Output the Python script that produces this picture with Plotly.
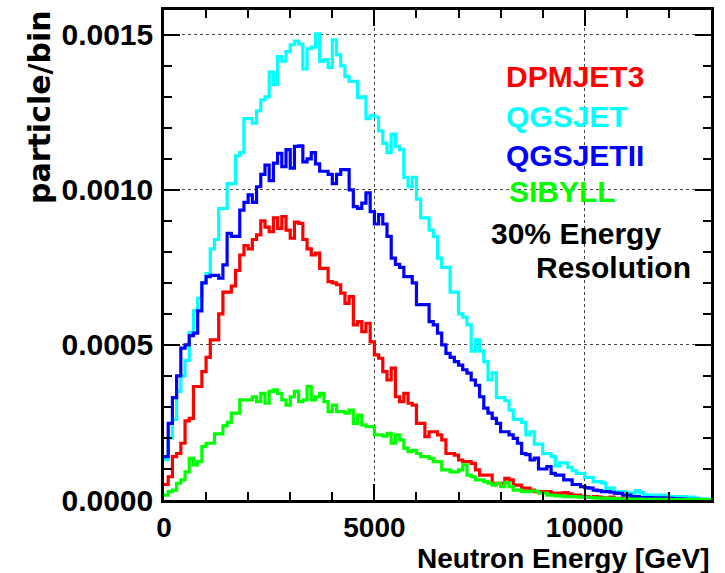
import numpy as np
import plotly.graph_objects as go

# Bin edges (GeV): 130 bins of 100 GeV
bin_width_gev = 100
n_bins = 130
bin_edges_gev = np.arange(0, bin_width_gev * (n_bins + 1), bin_width_gev)

# Values in units of 1e-5 particle/bin
scale = 1e-5

dpmjet3 = [
    5, 7.5, 14, 15, 18.3, 25.5, 26.3, 36.6, 36.6, 41.4,
    46, 51.6, 51.6, 60, 67, 67, 69, 74, 79, 82,
    81, 84, 85.5, 90, 88, 86.5, 91, 87.6, 91.4, 87,
    84.4, 89.6, 89.2, 84, 81, 79, 79.6, 74.7, 74.7, 70.4,
    70, 69.4, 66.7, 63.4, 65.6, 56.5, 57.5, 54.3, 57, 51,
    46.8, 45.7, 41.4, 38.7, 42.5, 33.3, 31.7, 34.4, 31.2, 30.6,
    24.7, 24.7, 20.4, 22, 22, 21, 19.4, 15, 15, 14.5,
    12.9, 12.4, 12.4, 11.8, 9.7, 8, 8, 8, 5.4, 5.4,
    5.4, 7, 6.5, 4.8, 4.8, 3.8, 3.8, 3.2, 2.7, 2.7,
    2.7, 2.7, 2.2, 2.2, 2.2, 2.4, 2.0, 1.6, 1.6, 1.2,
    1.1, 0.8, 1.1, 0.9, 0.7, 0.6, 0.9, 0.5, 0.5, 0.4,
    0.4, 0.3, 0.3, 0.2, 0.2, 0.2, 0.2, 0.1, 0.1, 0.1,
    0.1, 0.1, 0.1, 0.1, 0.05, 0.05, 0.05, 0.05, 0.05, 0.05,
]

qgsjet = [
    13, 20, 26, 35, 40, 45, 54, 61, 65, 70,
    73, 81, 84, 94, 94, 102, 102, 111, 112, 123,
    123, 121.5, 125.5, 129, 130, 138, 134, 143, 141.5, 144.6,
    146.8, 148, 147, 139, 145.5, 146, 150.3, 141.4, 142, 139.5,
    148.4, 143.5, 140, 136.5, 135, 135, 129.7, 130, 123, 124,
    123.5, 119, 115, 112, 118, 114, 113, 104, 101, 104,
    97, 91, 91, 87, 85, 78, 75, 75, 67, 67,
    60, 59, 56.5, 48, 51.6, 48, 44.6, 38.7, 41, 33,
    33, 32, 29, 26, 26, 25, 21, 22, 18, 18,
    15, 15, 14, 11, 12, 12, 10.5, 9.5, 8.6, 8.6,
    7.3, 7.3, 5.9, 5.9, 5.5, 3.8, 3.8, 2.7, 2.7, 2.7,
    2.2, 2.2, 3.0, 2.4, 1.6, 1.6, 1.6, 1.6, 1.6, 1.6,
    1.1, 1.1, 1.1, 1.1, 0.9, 0.9, 0.6, 0.4, 0.4, 0.3,
]

qgsjetii = [
    14, 24.7, 33, 40, 49, 50, 53, 53.8, 61, 70,
    72, 72.4, 72.4, 71.5, 75.8, 86, 85, 85, 93.5, 96,
    98.4, 96, 101, 105, 108, 103, 108.6, 111.8, 107.5, 113,
    107, 114, 114.2, 109, 110, 112, 108.4, 106, 106, 105,
    102, 105, 106.5, 106.5, 100, 94.6, 94, 95.7, 99, 93,
    89, 92, 89, 85, 78, 76, 75, 72, 72, 70,
    63, 63, 63, 57.5, 56.5, 53.8, 50, 47.3, 46, 44.6,
    43.5, 42, 40.9, 38.7, 37, 33.3, 29.6, 28, 26.3, 24.7,
    22, 22, 21, 19.9, 18.3, 15, 14.6, 12.9, 13.5, 10,
    10, 10.8, 8.6, 8, 8, 6.5, 6.5, 5, 5, 4.3,
    4, 3.8, 3.2, 3, 2.7, 2.7, 2.5, 2.2, 2.15, 1.6,
    1.6, 1.1, 1.1, 0.8, 0.75, 0.75, 0.7, 0.7, 0.7, 0.6,
    0.5, 0.4, 0.4, 0.3, 0.2, 0.2, 0.2, 0.1, 0.1, 0.1,
]

sibyll = [
    1.6, 2.7, 3.2, 5.4, 6.5, 9.1, 13.4, 11.3, 12.4, 17.2,
    18.3, 18.3, 21.3, 21.3, 23.9, 25, 28, 28, 32.3, 32.3,
    32.3, 33.3, 31.7, 34.4, 31.2, 35, 35.5, 34.4, 32.3, 30.6,
    33.3, 35, 31.7, 32.3, 36.6, 32.3, 33.3, 34.4, 31.7, 28.5,
    30.6, 28.5, 28.5, 28, 29, 24.7, 27.4, 24.2, 23.7, 23.7,
    21, 21, 20.6, 21.5, 18.3, 21, 19.4, 16.7, 15.6, 16,
    15, 14, 14, 13.4, 12.4, 12.4, 9.7, 9.7, 9.1, 9.1,
    9.7, 11.3, 8, 7.5, 6.5, 6.5, 5.9, 5.4, 4.8, 5.4,
    4.3, 5.6, 4.3, 3.2, 3.2, 2.7, 2.7, 2.9, 2.9, 2.2,
    2.2, 1.6, 1.6, 1.3, 1.3, 1.1, 1.1, 1.1, 1.0, 0.9,
    0.9, 0.8, 0.7, 0.6, 0.6, 0.5, 0.5, 0.4, 0.4, 0.3,
    0.3, 0.3, 0.3, 0.3, 0.2, 0.2, 0.2, 0.2, 0.2, 0.2,
    0.1, 0.1, 0.1, 0.1, 0.1, 0.1, 0.1, 0.1, 0.1, 0.1,
]

series_names = ["DPMJET3", "QGSJET", "QGSJETII", "SIBYLL"]
series_values = [dpmjet3, qgsjet, qgsjetii, sibyll]
series_colors = ["#ff0000", "#00ffff", "#0000ff", "#00ff00"]

y_tick_vals = [0.0, 0.0005, 0.0010, 0.0015]
y_tick_text = ["0.0000", "0.0005", "0.0010", "0.0015"]
x_tick_vals = [0, 5000, 10000]
x_tick_text = ["0", "5000", "10000"]

FONT = "Liberation Sans, Arial, Helvetica, sans-serif"
WIDE_FONT = "DejaVu Sans, Liberation Sans, sans-serif"

fig = go.Figure()
for name, vals, col in zip(series_names, series_values, series_colors):
    y = np.array(vals) * scale
    fig.add_trace(go.Scatter(
        x=bin_edges_gev,
        y=np.append(y, y[-1]),
        mode="lines",
        line=dict(shape="hv", color=col, width=3.2),
        name=name,
        showlegend=False,
    ))

axis_common = dict(
    showline=True, linecolor="black", linewidth=2.5, mirror="ticks",
    ticks="inside", tickcolor="black", tickwidth=1.5, ticklen=16,
    showgrid=True, gridcolor="#444444", gridwidth=1, griddash="dot",
    zeroline=False, automargin=False,
)

fig.update_xaxes(
    range=[0, 13000], tickvals=x_tick_vals, ticktext=x_tick_text,
    minor=dict(dtick=1000, ticks="inside", ticklen=8, tickcolor="black", tickwidth=1.5, showgrid=False),
    ticklabelstandoff=1,
    tickfont=dict(family=FONT, size=28, color="black", weight="bold"),
    **axis_common,
)
fig.update_yaxes(
    range=[0, 0.00158], tickvals=y_tick_vals, ticktext=y_tick_text,
    minor=dict(dtick=0.0001, ticks="inside", ticklen=8, tickcolor="black", tickwidth=1.5, showgrid=False),
    ticklabelstandoff=2,
    tickfont=dict(family=FONT, size=30, color="black", weight="bold"),
    **axis_common,
)

annots = [
    dict(text="DPMJET3", color="#ff0000", x=504, y=77, xanchor="left"),
    dict(text="QGSJET", color="#00ffff", x=504, y=116, xanchor="left"),
    dict(text="QGSJETII", color="#0000ff", x=504, y=155, xanchor="left"),
    dict(text="SIBYLL", color="#00ff00", x=507, y=191, xanchor="left"),
    dict(text="30% Energy", color="black", x=663, y=233, xanchor="right"),
    dict(text="Resolution", color="black", x=693, y=267, xanchor="right"),
]
L, R, T, B = 164, 711, 10, 500
for a in annots:
    fig.add_annotation(
        text=a["text"], xref="paper", yref="paper",
        x=(a["x"] - L) / (R - L), y=(B - a["y"]) / (B - T),
        xanchor=a["xanchor"], yanchor="middle", showarrow=False,
        font=dict(family=FONT, size=30, color=a["color"], weight="bold"),
    )

# axis titles
fig.add_annotation(
    text="Neutron Energy [GeV]", xref="paper", yref="paper",
    x=1.0, y=(B - 558) / (B - T), xanchor="right", yanchor="middle",
    showarrow=False, font=dict(family=FONT, size=28, color="black", weight="bold"),
)
fig.add_annotation(
    text="particle/bin", xref="paper", yref="paper",
    x=(40 - L) / (R - L), y=(B - 8) / (B - T), xanchor="center", yanchor="top",
    textangle=-90, showarrow=False,
    font=dict(family=WIDE_FONT, size=30, color="black", weight="bold"),
)

fig.update_layout(
    width=725, height=573,
    margin=dict(l=L, r=725 - R, t=T, b=573 - B, autoexpand=False),
    paper_bgcolor="white", plot_bgcolor="white",
    showlegend=False,
)

fig.write_html("out.html", config={"displayModeBar": False})

# remove the browser's default page margin so the figure fills the window exactly
with open("out.html", "r", encoding="utf-8") as f:
    html = f.read()
html = html.replace("<head>", "<head><style>html,body{margin:0;padding:0;overflow:hidden;}</style>", 1)
with open("out.html", "w", encoding="utf-8") as f:
    f.write(html)
